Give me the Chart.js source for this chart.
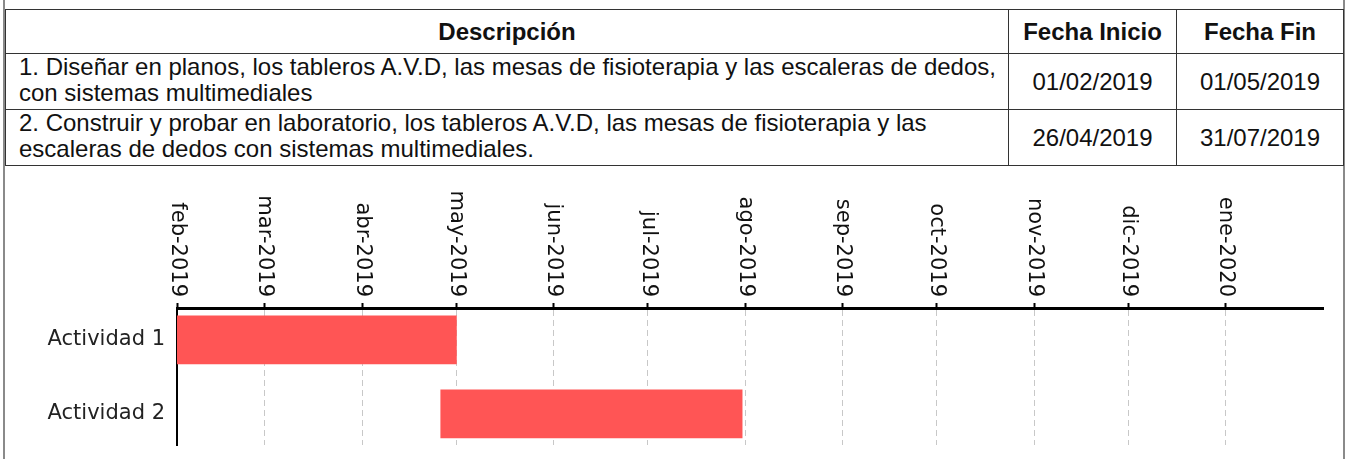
<!DOCTYPE html>
<html lang="es">
<head>
<meta charset="utf-8">
<title>Cronograma de actividades</title>
<script src="https://cdn.jsdelivr.net/npm/chart.js@4.4.0/dist/chart.umd.min.js"></script>
<style>
    html, body { margin: 0; padding: 0; background: #fff; }
    .frame {
        position: absolute; left: 3px; top: 0;
        width: 1338px; height: 459px;
        border-left: 2px solid #8a8a8a; border-right: 2px solid #8a8a8a;
    }
    table {
        position: absolute; left: 0; top: 9px;
        width: 1338px; border-collapse: collapse; table-layout: fixed;
        font-family: "Liberation Sans", Arial, sans-serif; font-size: 24px; color: #111;
    }
    th, td { border: 1px solid #333; padding: 0; }
    th { height: 43px; font-weight: bold; text-align: center; }
    td { height: 55px; }
    td.desc { padding: 0 2px 0 13px; vertical-align: top; line-height: 26px; }
    td.date { text-align: center; vertical-align: middle; }
    .chart-box { position: absolute; left: 0; top: 167px; width: 1338px; height: 292px; }
</style>
</head>
<body>
<div class="frame">
    <table id="tabla">
        <colgroup><col style="width:1003px"><col style="width:168px"><col style="width:167px"></colgroup>
        <thead><tr><th>Descripción</th><th>Fecha Inicio</th><th>Fecha Fin</th></tr></thead>
        <tbody></tbody>
    </table>
    <div class="chart-box"><canvas id="gantt" width="1338" height="292"></canvas></div>
</div>
<script>
// Activities
const actividades = ['Actividad 1', 'Actividad 2'];
const descripciones = [
    '1. Diseñar en planos, los tableros A.V.D, las mesas de fisioterapia y las escaleras de dedos, con sistemas multimediales',
    '2. Construir y probar en laboratorio, los tableros A.V.D, las mesas de fisioterapia y las escaleras de dedos con sistemas multimediales.'
];
const fechaInicio = ['01/02/2019', '26/04/2019'];
const fechaFin = ['01/05/2019', '31/07/2019'];

// Month ticks of the time axis
const mesesTicks = ['01/02/2019', '01/03/2019', '01/04/2019', '01/05/2019', '01/06/2019', '01/07/2019',
    '01/08/2019', '01/09/2019', '01/10/2019', '01/11/2019', '01/12/2019', '01/01/2020'];
const etiquetasMeses = ['feb-2019', 'mar-2019', 'abr-2019', 'may-2019', 'jun-2019', 'jul-2019',
    'ago-2019', 'sep-2019', 'oct-2019', 'nov-2019', 'dic-2019', 'ene-2020'];
const ejeInicio = '01/02/2019';
const ejeFin = '01/02/2020';

// dd/mm/yyyy -> day number
function toDay(s) {
    const [d, m, y] = s.split('/').map(Number);
    return Date.UTC(y, m - 1, d) / 86400000;
}

// Fill the table
const tbody = document.querySelector('#tabla tbody');
descripciones.forEach((desc, i) => {
    const tr = document.createElement('tr');
    tr.innerHTML = '<td class="desc"></td><td class="date"></td><td class="date"></td>';
    tr.children[0].textContent = desc;
    tr.children[1].textContent = fechaInicio[i];
    tr.children[2].textContent = fechaFin[i];
    tbody.appendChild(tr);
});

// Month labels read top to bottom above the axis
const etiquetasGiradas = {
    id: 'etiquetasGiradas',
    afterDraw(chart) {
        const sx = chart.scales.x;
        const ctx = chart.ctx;
        ctx.save();
        ctx.font = '21px "DejaVu Sans"';
        ctx.fillStyle = '#111';
        ctx.textAlign = 'right';
        ctx.textBaseline = 'middle';
        sx.ticks.forEach((t, i) => {
            ctx.save();
            ctx.translate(sx.getPixelForValue(t.value), sx.bottom - 11);
            ctx.rotate(Math.PI / 2);
            ctx.fillText(etiquetasMeses[i], 0, 0);
            ctx.restore();
        });
        ctx.restore();
    }
};

const ctx = document.getElementById('gantt').getContext('2d');
new Chart(ctx, {
    type: 'bar',
    data: {
        datasets: [{
            data: actividades.map((a, i) => ({ x: [toDay(fechaInicio[i]), toDay(fechaFin[i])], y: i })),
            backgroundColor: '#ff5555',
            borderWidth: 0,
            barThickness: 48
        }]
    },
    options: {
        indexAxis: 'y',
        responsive: false,
        animation: false,
        layout: { padding: { left: 0, right: 20, top: 0, bottom: 14 } },
        plugins: {
            legend: { display: false },
            tooltip: { enabled: false }
        },
        scales: {
            x: {
                type: 'linear',
                position: 'top',
                min: toDay(ejeInicio),
                max: toDay(ejeFin),
                afterBuildTicks: s => { s.ticks = mesesTicks.map(t => ({ value: toDay(t) })); },
                afterFit: s => { s.height = 141; s.paddingLeft = 0; s.paddingRight = 0; },
                ticks: { display: false, autoSkip: false },
                grid: { color: '#c8c8c8', lineWidth: 1, tickLength: 5, tickColor: '#000', tickWidth: 2 },
                border: { color: '#000', width: 3, dash: [6, 4] }
            },
            y: {
                type: 'linear',
                reverse: true,
                offset: false,
                min: -0.43,
                max: 1.42,
                z: 1,
                afterBuildTicks: s => { s.ticks = actividades.map((a, i) => ({ value: i })); },
                afterFit: s => { s.width = 172; s.paddingTop = 0; s.paddingBottom = 0; },
                ticks: {
                    padding: 12,
                    color: '#222',
                    font: { family: 'DejaVu Sans', size: 21 },
                    callback: v => actividades[v]
                },
                grid: { display: false, drawTicks: false },
                border: { color: '#000', width: 2 }
            }
        }
    },
    plugins: [etiquetasGiradas]
});
</script>
</body>
</html>
